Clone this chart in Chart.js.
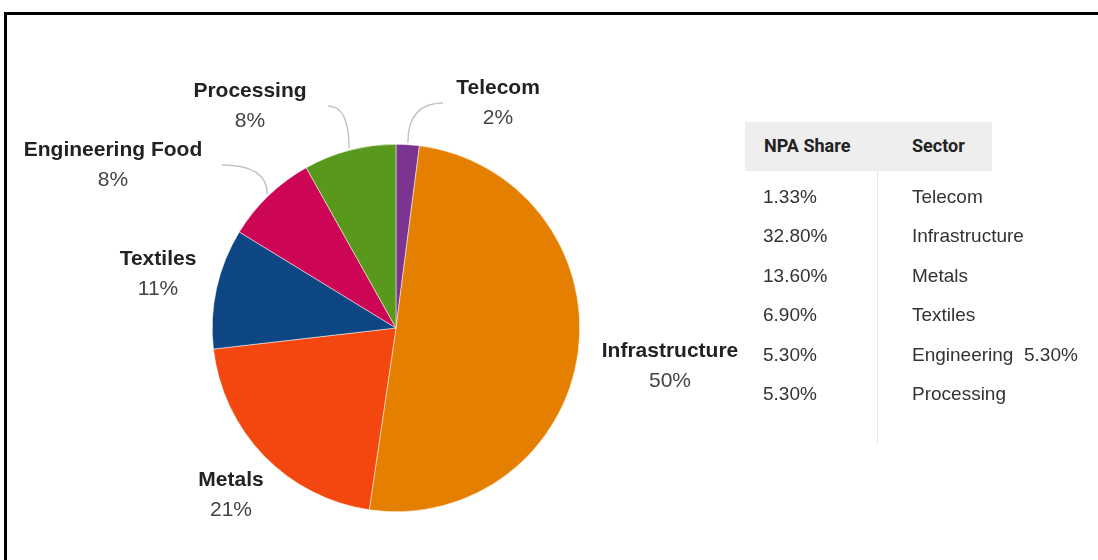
<!DOCTYPE html>
<html lang="en">
<head>
    <meta charset="UTF-8">
    <title>NPA Share by Sector</title>
    <script src="https://cdn.jsdelivr.net/npm/chart.js"></script>
    <style>
        body { margin: 0; width: 1098px; height: 560px; position: relative; overflow: hidden; background: #fff; font-family: "Liberation Sans", Arial, sans-serif; }
        #frame { position: absolute; left: 4px; top: 12px; right: 0; bottom: 0; border-top: 3px solid #000; border-left: 3px solid #000; }
        #wrap { position: absolute; left: 0; top: 0; width: 1098px; height: 560px; }
        #head { position: absolute; left: 745px; top: 122px; width: 247px; height: 49px; background: #eeeeee; }
        #divider { position: absolute; left: 877px; top: 171px; width: 1px; height: 272px; background: #e6e6e6; }
        .th { position: absolute; font-family: Roboto, sans-serif; font-weight: 700; font-size: 18px; color: #222; line-height: 20px; }
        .td { position: absolute; font-size: 19px; color: #333; line-height: 22px; white-space: pre; }
    </style>
</head>
<body>
    <div id="wrap"><canvas id="pieChart"></canvas></div>
    <div id="frame"></div>
    <div id="head"></div>
    <div id="divider"></div>
    <div id="table"></div>
    <script>
        // pie data
        const sectors = ['Telecom', 'Infrastructure', 'Metals', 'Textiles', 'Engineering Food', 'Processing'];
        const npaShare = [1.33, 32.80, 13.60, 6.90, 5.30, 5.30];
        const colors = ['#7b3590', '#e47f00', '#f4470f', '#0d4683', '#cc0655', '#58991c'];

        // table on the right
        const tableShares = ['1.33%', '32.80%', '13.60%', '6.90%', '5.30%', '5.30%'];
        const tableSectors = ['Telecom', 'Infrastructure', 'Metals', 'Textiles', 'Engineering  5.30%', 'Processing'];

        // label placement relative to pie centre (name centre, optional leader end)
        const labelLayout = {
            'Telecom':          { dx: 102,  dy: -240, lead: [47, -225] },
            'Infrastructure':   { dx: 274,  dy: 23 },
            'Metals':           { dx: -165, dy: 152 },
            'Textiles':         { dx: -238, dy: -69 },
            'Engineering Food': { dx: -283, dy: -178, lead: [-174, -163] },
            'Processing':       { dx: -146, dy: -237, lead: [-68, -222] }
        };

        const total = npaShare.reduce((a, b) => a + b, 0);

        const labelPlugin = {
            id: 'sliceLabels',
            afterDatasetsDraw(chart) {
                const ctx = chart.ctx;
                const arcs = chart.getDatasetMeta(0).data;
                ctx.save();
                arcs.forEach((arc, i) => {
                    const lay = labelLayout[sectors[i]];
                    const cx = arc.x, cy = arc.y;
                    if (lay.lead) {
                        const mid = (arc.startAngle + arc.endAngle) / 2;
                        const sx = cx + Math.cos(mid) * (arc.outerRadius + 2);
                        const sy = cy + Math.sin(mid) * (arc.outerRadius + 2);
                        const ex = cx + lay.lead[0], ey = cy + lay.lead[1];
                        ctx.beginPath();
                        ctx.moveTo(sx, sy);
                        ctx.quadraticCurveTo(sx, ey, ex, ey);
                        ctx.strokeStyle = '#c4c4c4';
                        ctx.lineWidth = 1.5;
                        ctx.stroke();
                    }
                    const pct = Math.round(npaShare[i] / total * 100) + '%';
                    ctx.textAlign = 'center';
                    ctx.textBaseline = 'middle';
                    ctx.font = 'bold 21px "Liberation Sans", Arial, sans-serif';
                    ctx.fillStyle = '#222';
                    ctx.fillText(sectors[i], cx + lay.dx, cy + lay.dy);
                    ctx.font = '21px "Liberation Sans", Arial, sans-serif';
                    ctx.fillStyle = '#444';
                    ctx.fillText(pct, cx + lay.dx, cy + lay.dy + 30);
                });
                ctx.restore();
            }
        };

        new Chart(document.getElementById('pieChart'), {
            type: 'pie',
            data: {
                labels: sectors,
                datasets: [{
                    data: npaShare,
                    backgroundColor: colors,
                    borderColor: '#ffffff',
                    borderWidth: 0.5
                }]
            },
            options: {
                responsive: true,
                maintainAspectRatio: false,
                animation: false,
                layout: { padding: { left: 212, right: 518, top: 144, bottom: 48 } },
                plugins: { legend: { display: false }, tooltip: { enabled: false } }
            },
            plugins: [labelPlugin]
        });

        // build the table
        const table = document.getElementById('table');
        function cell(cls, text, x, y) {
            const d = document.createElement('div');
            d.className = cls;
            d.textContent = text;
            d.style.left = x + 'px';
            d.style.top = y + 'px';
            table.appendChild(d);
        }
        cell('th', 'NPA Share', 764, 136);
        cell('th', 'Sector', 912, 136);
        tableShares.forEach((v, i) => {
            const y = 186 + i * 39.4;
            cell('td', v, 763, y);
            cell('td', tableSectors[i], 912, y);
        });
    </script>
</body>
</html>
